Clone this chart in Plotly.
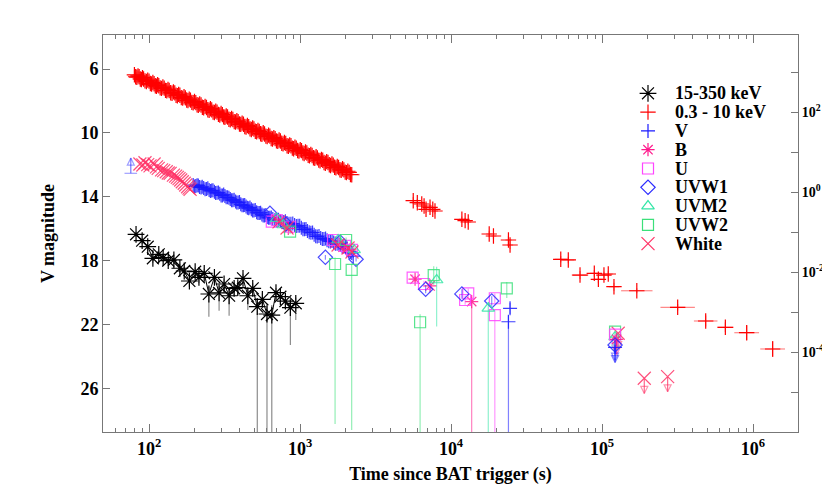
import numpy as np
import plotly.graph_objects as go

FONT = "Liberation Serif"

# ---------------- BAT 15-350 keV (flux, right axis) ----------------
bat_t = [82, 90, 98, 106, 116, 124, 134, 146, 160, 171, 185, 202, 214, 232, 249, 271, 291,
         314, 339, 366, 387, 419, 451, 486, 521, 563, 604, 650, 693, 741, 800, 863, 937]
bat_f = [0.0875, 0.0606, 0.0429, 0.022, 0.0277, 0.0228, 0.0192, 0.020, 0.0124, 0.0106,
         0.00596, 0.0102, 0.00737, 0.00928, 0.00282, 0.00737, 0.00299, 0.00501, 0.00255, 0.00391,
         0.00405, 0.00696, 0.00255, 0.00391, 0.00136, 0.00208, 0.00089, 0.00084, 0.00304, 0.00241,
         0.00188, 0.00128, 0.00165]
bat_lo = [0.075, 0.050, 0.034, 0.017, 0.021, 0.018, 0.015, 0.016, 0.0095, 0.0080, 0.0042, 0.0075,
          0.0052, 0.0068, 0.00076, 0.0052, 0.00108, 0.0034, 0.00081, 0.0026, 0.0027, 0.0050, 0.00112,
          0.0026, 1e-9, 0.0013, 1e-9, 1e-9, 0.0021, 0.0016, 0.0012, 0.00015, 0.00063]
bat_hi = [0.102, 0.072, 0.052, 0.028, 0.034, 0.028, 0.024, 0.025, 0.016, 0.014, 0.0080, 0.013,
          0.0097, 0.012, 0.0042, 0.0097, 0.0045, 0.0066, 0.0038, 0.0052, 0.0054, 0.0090, 0.0038,
          0.0052, 0.0022, 0.0030, 0.0016, 0.0015, 0.0040, 0.0032, 0.0026, 0.0020, 0.0023]

# ---------------- XRT 0.3-10 keV (flux, right axis) ----------------
xrt_t_early = [80, 83, 86, 89, 92, 96, 100, 104, 108, 112, 116, 121, 126, 131, 136, 142, 148, 154,
               160, 167, 174, 181, 188, 196, 204, 212, 221, 230, 240, 250, 260, 271, 282, 294, 306,
               318, 331, 345, 359, 374, 389, 405, 422, 439, 457, 476, 495, 516, 537, 559, 582, 606,
               631, 657, 684, 712, 741, 772, 804, 837, 871, 907, 944, 983, 1023, 1065, 1109, 1155,
               1202, 1252, 1303, 1357, 1413, 1471, 1531, 1594, 1660, 1728, 1800, 1874, 1951, 2031,
               2115, 2200]
xrt_f_early = [850, 740, 760, 650, 670, 580, 590, 500, 510, 440, 455, 390, 395, 340, 345, 295, 300,
               255, 262, 222, 226, 193, 198, 170, 172, 148, 150, 128, 130, 111, 113, 97, 99, 84, 86,
               74, 75, 64, 65, 56, 57, 49, 49.5, 42, 43, 36.5, 37.5, 32, 32.5, 27.8, 28.3, 24.3, 24.9,
               21.1, 21.6, 18.4, 18.8, 16.0, 16.4, 13.9, 14.3, 12.1, 12.4, 10.5, 10.8, 9.2, 9.4, 8.05,
               8.2, 7.0, 7.15, 6.05, 6.2, 5.25, 5.45, 4.6, 4.7, 4.02, 4.1, 3.5, 3.58, 3.05, 3.1, 2.7]
xrt_t_early_b = [81.5, 84.5, 87.5, 90.5, 94, 98, 102, 106, 110, 114, 118.5, 123.5, 128.5, 133.5,
                 139, 145, 151, 157, 163.5, 170.5, 177.5, 184.5, 192, 200, 208, 216.5, 225.5, 235,
                 245, 255, 265.5, 276.5, 288, 300, 312, 324.5, 338, 352, 366.5, 381.5, 397, 413.5,
                 430.5, 448, 466.5, 485.5, 505.5, 526.5, 548, 570.5, 594, 618.5, 644, 670.5, 698,
                 726.5, 756.5, 788, 820.5, 854, 889, 925.5, 963.5, 1003, 1044, 1087, 1132, 1178.5,
                 1227, 1277.5, 1330, 1385, 1442, 1501, 1562.5, 1627, 1694, 1764, 1837, 1912.5, 1991,
                 2073, 2157.5]
xrt_f_early_b = [760, 800, 670, 720, 600, 625, 515, 545, 455, 480, 400, 420, 348, 366, 303, 318,
                 262, 276, 229, 241, 199, 210, 174, 183, 152, 159, 132, 138, 114, 121, 99, 105, 87,
                 92, 75.5, 79.5, 66, 69, 57.5, 60.5, 50, 52.8, 43.5, 45.8, 37.8, 39.8, 33, 34.5,
                 28.7, 30.2, 25, 26.4, 21.8, 22.9, 19, 19.9, 16.5, 17.3, 14.3, 15.1, 12.5, 13.1, 10.9,
                 11.4, 9.5, 10.0, 8.3, 8.7, 7.2, 7.6, 6.25, 6.55, 5.45, 5.75, 4.78, 5.0, 4.15, 4.35,
                 3.6, 3.8, 3.14, 3.3, 2.74]
xrt_early_dex_f = 0.12
xrt_early_dex_t = 0.012

xrt_t_late = [5620, 5980, 6400, 6630, 6830, 7260, 7570, 7830, 11800, 12400, 13000, 17900, 19100,
              24000, 24600, 53300, 59800, 71500, 88900, 94600, 103000, 110000, 120000, 170000,
              317000, 486000, 656000, 908000, 1349000]
xrt_f_late = [0.606, 0.540, 0.501, 0.447, 0.369, 0.414, 0.369, 0.335, 0.208, 0.192, 0.178, 0.0891,
              0.0794, 0.0631, 0.0473, 0.0208, 0.020, 0.0084, 0.00928, 0.00657, 0.0084, 0.0089,
              0.00429, 0.0034, 0.00131, 5.96e-4, 4.14e-4, 3.04e-4, 1.19e-4]
xrt_late_dex_t = [0.02, 0.02, 0.02, 0.02, 0.02, 0.02, 0.02, 0.02, 0.02, 0.02, 0.02, 0.02, 0.02,
                  0.02, 0.02, 0.04, 0.04, 0.055, 0.03, 0.03, 0.03, 0.03, 0.035, 0.104, 0.114,
                  0.078, 0.055, 0.082, 0.082]
xrt_late_dex_f = [0.09, 0.09, 0.08, 0.08, 0.09, 0.08, 0.09, 0.08, 0.07, 0.07, 0.07, 0.08, 0.08,
                  0.1, 0.1, 0.08, 0.08, 0.1, 0.08, 0.1, 0.08, 0.08, 0.1, 0.06, 0.08, 0.14, 0.12,
                  0.18, 0.2]

# ---------------- UVOT / optical (magnitudes, left axis) ----------------
v_t = [196, 204, 212, 221, 230, 240, 250, 260, 271, 282, 294, 306, 318, 331, 345, 359, 374, 389,
       405, 422, 439, 457, 476, 495, 516, 537, 559, 582, 606, 631, 660, 700, 740, 780, 820, 870,
       920, 970, 1020, 1070, 1120, 1180, 1240, 1300, 1370, 1440, 1510, 1590, 1670, 1760, 1850,
       1950, 2050, 2150, 2250, 24600, 24000]
v_mag = [13.25, 13.32, 13.28, 13.4, 13.44, 13.5, 13.56, 13.6, 13.68, 13.74, 13.8, 13.9, 13.94,
         14.02, 14.12, 14.2, 14.28, 14.35, 14.46, 14.52, 14.6, 14.7, 14.76, 14.85, 14.95, 15.0,
         15.1, 15.16, 15.25, 15.3, 15.38, 15.45, 15.5, 15.56, 15.62, 15.68, 15.75, 15.8, 15.92,
         16.02, 16.12, 16.24, 16.36, 16.47, 16.56, 16.63, 16.7, 16.78, 16.85, 16.93, 17.0, 17.1,
         17.25, 17.45, 17.7, 20.96, 21.8]
v_err_lo = [0.12] * 55 + [0.35, 0.4]
v_err_hi = [0.12] * 55 + [0.35, 10]
v_t_b = [200, 208, 216, 225, 235, 245, 255, 265, 276, 288, 300, 312, 324, 338, 352, 366, 381, 397,
         413, 430, 448, 466, 485, 505, 526, 548, 570, 594, 618, 645, 680, 720, 760, 800, 845, 895,
         945, 995, 1045, 1095, 1150, 1210, 1270, 1335, 1405, 1475, 1550, 1630, 1715, 1805, 1900,
         2000, 2100, 2200]
v_mag_b = [13.35, 13.26, 13.38, 13.36, 13.52, 13.46, 13.62, 13.58, 13.75, 13.72, 13.9, 13.85,
           14.02, 14.05, 14.2, 14.18, 14.35, 14.32, 14.52, 14.5, 14.68, 14.65, 14.84, 14.82, 15.0,
           14.98, 15.16, 15.12, 15.3, 15.28, 15.45, 15.42, 15.56, 15.52, 15.68, 15.66, 15.82, 15.8,
           16.02, 16.0, 16.2, 16.22, 16.45, 16.44, 16.62, 16.6, 16.76, 16.75, 16.92, 16.9, 17.1,
           17.12, 17.4, 17.5]
v_lowlim_t = [75.7]
v_lowlim_mag = [12.52]

b_t = [693, 760, 836, 1706, 1927, 2143, 5780, 7260, 13700]
b_mag = [15.39, 15.6, 15.96, 16.88, 17.13, 17.31, 19.14, 19.56, 20.54]
b_err_lo = [0.1, 0.1, 0.12, 0.12, 0.15, 0.15, 0.2, 0.25, 0.3]
b_err_hi = [0.1, 0.1, 0.12, 0.12, 0.15, 0.15, 0.2, 0.25, 10]

u_t = [650, 702, 859, 1655, 1986, 2208, 5570, 6620, 12400, 13000, 19500, 19500]
u_mag = [15.54, 15.44, 15.86, 16.69, 17.06, 17.31, 19.04, 19.44, 20.44, 20.02, 20.33, 21.38]
u_err_lo = [0.1, 0.1, 0.12, 0.12, 0.15, 0.15, 0.2, 0.2, 0.3, 0.3, 0.3, 0.3]
u_err_hi = [0.1, 0.1, 0.12, 0.12, 0.15, 0.15, 0.2, 0.2, 0.3, 0.3, 0.3, 10]

w1_t = [632, 807, 1472, 1841, 2350, 6790, 11800, 18600]
w1_mag = [15.02, 15.69, 17.77, 16.81, 17.89, 19.77, 20.06, 20.5]
w1_err_lo = [0.1, 0.12, 0.15, 0.12, 0.15, 0.25, 0.3, 0.3]
w1_err_hi = [0.1, 0.12, 0.15, 0.12, 0.15, 0.25, 0.3, 0.3]

m2_t = [700, 774, 1786, 2281, 8030, 17650]
m2_mag = [15.35, 15.75, 16.69, 17.31, 19.19, 20.96]
m2_err_lo = [0.12, 0.15, 0.15, 0.2, 0.83, 0.4]
m2_err_hi = [0.12, 0.15, 0.15, 0.2, 2.9, 10]

w2_t = [859, 1706, 2019, 2198, 6240, 7680, 23400]
w2_mag = [16.17, 18.19, 16.69, 18.56, 21.83, 18.88, 19.71]
w2_err_lo = [0.15, 0.4, 0.15, 0.4, 0.5, 0.55, 0.4]
w2_err_hi = [0.15, 10, 0.15, 10, 10, 0.6, 0.6]

wh_t = [87, 91, 94, 98, 101.5, 108, 112, 115, 121, 125, 130, 134, 138, 145, 150, 154, 158, 162,
        166, 171, 175, 180, 184, 187, 726, 820, 1786, 2080, 2208]
wh_mag = [11.94, 12.0, 11.86, 11.98, 12.06, 11.94, 12.12, 12.21, 12.31, 12.35, 12.42, 12.5, 12.52,
          12.63, 12.7, 12.77, 12.85, 12.94, 13.05, 13.14, 13.25, 13.36, 13.45, 13.52, 15.56, 15.94,
          17.0, 17.19, 17.44]
wh_err = [0.1] * 29

# upper limits (late)
ul_band = ["UVW2", "White", "UVM2", "U", "B", "UVW1", "V", "White", "White"]
ul_t = [122000, 128000, 122000, 122000, 125000, 122000, 122000, 190500, 272000]
ul_mag = [22.42, 22.52, 22.75, 22.6, 22.9, 23.25, 23.4, 25.33, 25.23]

# legend labels
legend_labels = ["15-350 keV", "0.3 - 10 keV", "V", "B", "U", "UVW1", "UVM2", "UVW2", "White"]
legend_keys = ["BAT", "XRT", "V", "B", "U", "UVW1", "UVM2", "UVW2", "White"]

# ---------------- axes ----------------
x_tickvals = [1e2, 1e3, 1e4, 1e5, 1e6]
x_ticktext = ["10<sup>2</sup>", "10<sup>3</sup>", "10<sup>4</sup>", "10<sup>5</sup>", "10<sup>6</sup>"]
y_tickvals = [6, 10, 14, 18, 22, 26]
y2_tickvals = [1e3, 1e2, 1e1, 1e0, 1e-1, 1e-2, 1e-3, 1e-4, 1e-5]
y2_ticktext = ["", "10<sup>2</sup>", "", "10<sup>0</sup>", "", "10<sup>-2</sup>", "", "10<sup>-4</sup>", ""]

COL = {
    "BAT": "#000000", "XRT": "#ff0000",
    "V": "#1a1aff", "B": "#ff1a8c", "U": "#ff44ff", "UVW1": "#2a2aff",
    "UVM2": "#33e6a6", "UVW2": "#3be07a", "White": "#ff3366",
}
SYM = {
    "BAT": "asterisk-open", "XRT": "cross-thin-open",
    "V": "cross-thin-open", "B": "asterisk-open", "U": "square-open", "UVW1": "diamond-open",
    "UVM2": "triangle-up-open", "UVW2": "square-open", "White": "x-thin-open",
}
SIZE = {"BAT": 14, "XRT": 11, "V": 10, "B": 11, "U": 11, "UVW1": 11, "UVM2": 11, "UVW2": 11,
        "White": 13}


def rgba(hexc, a):
    h = hexc.lstrip("#")
    return "rgba(%d,%d,%d,%.2f)" % (int(h[0:2], 16), int(h[2:4], 16), int(h[4:6], 16), a)


def mk(key, alpha=1.0):
    c = rgba(COL[key], alpha)
    return dict(symbol=SYM[key], size=SIZE[key], color=c, line=dict(width=1.2, color=c))


fig = go.Figure()
axis_col = "#777777"

# BAT
bt = np.array(bat_t, float)
bf = np.array(bat_f)
fig.add_trace(go.Scatter(x=bt, y=bf, yaxis="y2", mode="lines", line=dict(color="black", width=1),
                         hoverinfo="skip"))
fig.add_trace(go.Scatter(
    x=bt, y=bf, yaxis="y2", mode="markers", marker=mk("BAT"),
    error_y=dict(type="data", symmetric=False, array=np.array(bat_hi) - bf,
                 arrayminus=bf - np.array(bat_lo), color="#8c8c8c", thickness=1.2, width=0)))

# XRT
xerr_col = "rgba(255,40,40,0.55)"
te = np.array(xrt_t_early + xrt_t_early_b, float)
fe = np.array(xrt_f_early + xrt_f_early_b, float)
tl = np.array(xrt_t_late, float)
fl = np.array(xrt_f_late, float)
dtl = np.array(xrt_late_dex_t)
dfl = np.array(xrt_late_dex_f)
for tt, ff, dt, df in [(te, fe, xrt_early_dex_t, xrt_early_dex_f), (tl, fl, dtl, dfl)]:
    fig.add_trace(go.Scatter(
        x=tt, y=ff, yaxis="y2", mode="markers", marker=mk("XRT"),
        error_y=dict(type="data", symmetric=False, array=ff * (10 ** df - 1),
                     arrayminus=ff * (1 - 10 ** -df), color=xerr_col, thickness=1.2, width=0),
        error_x=dict(type="data", symmetric=False, array=tt * (10 ** dt - 1),
                     arrayminus=tt * (1 - 10 ** -dt), color=xerr_col, thickness=1.2, width=0)))

# Optical
bands = [
    ("V", v_t + v_t_b, v_mag + v_mag_b, v_err_lo + [0.12] * len(v_t_b), v_err_hi + [0.12] * len(v_t_b)),
    ("B", b_t, b_mag, b_err_lo, b_err_hi),
    ("U", u_t, u_mag, u_err_lo, u_err_hi),
    ("UVW1", w1_t, w1_mag, w1_err_lo, w1_err_hi),
    ("UVM2", m2_t, m2_mag, m2_err_lo, m2_err_hi),
    ("UVW2", w2_t, w2_mag, w2_err_lo, w2_err_hi),
    ("White", wh_t, wh_mag, wh_err, wh_err),
]
for name, t, m, elo, ehi in bands:
    fig.add_trace(go.Scatter(
        x=t, y=m, mode="markers", marker=mk(name, 0.85),
        error_y=dict(type="data", symmetric=False, array=ehi, arrayminus=elo,
                     color=rgba(COL[name], 0.55), thickness=1.2, width=0)))

# early V lower limit (arrow up)
ARROW = 0.95
vc = rgba(COL["V"], 0.6)
fig.add_trace(go.Scatter(
    x=v_lowlim_t * 2, y=[v_lowlim_mag[0], v_lowlim_mag[0] - ARROW], mode="lines+markers",
    line=dict(color=vc, width=1.2),
    marker=dict(symbol=["line-ew-open", "arrow-up-open"], size=[9, 7], color=vc, line=dict(width=1.2, color=vc)),
    hoverinfo="skip"))

# upper limits (arrows down)
for b, t, m in zip(ul_band, ul_t, ul_mag):
    c = rgba(COL[b], 0.75)
    fig.add_trace(go.Scatter(x=[t], y=[m], mode="markers", marker=mk(b, 0.85)))
    fig.add_trace(go.Scatter(
        x=[t, t], y=[m, m + ARROW], mode="lines+markers", hoverinfo="skip",
        line=dict(color=c, width=1.2),
        marker=dict(symbol=["circle", "arrow-down-open"], size=[0, 7], color=c, line=dict(width=1.2, color=c))))

# legend (drawn on a pixel-like helper axis pair)
LEG_X, LEG_Y0, LEG_DY, LEG_TX = 648, 93.3, 18.8, 673
for i, key in enumerate(legend_keys):
    fig.add_trace(go.Scatter(x=[LEG_X], y=[LEG_Y0 + i * LEG_DY], xaxis="x2", yaxis="y3",
                             mode="markers", marker=mk(key), hoverinfo="skip"))
    fig.add_annotation(x=LEG_TX, y=LEG_Y0 + i * LEG_DY, xref="x2", yref="y3", text=legend_labels[i],
                       showarrow=False, xanchor="left", yanchor="middle",
                       font=dict(family=FONT, size=18, color="black", weight="bold"))

# page body has an 8px margin: plot area lands at x 103..798, y 35..432 in the window
fig.update_layout(
    width=830, height=498,
    margin=dict(l=95, r=40, t=27, b=74),
    plot_bgcolor="white", paper_bgcolor="white",
    font=dict(family=FONT, color="black"),
    showlegend=False,
    xaxis=dict(type="log", range=[1.695, 6.298], showline=True, linecolor=axis_col, linewidth=1,
               mirror="ticks", ticks="inside", ticklen=8, tickcolor=axis_col,
               tickvals=x_tickvals, ticktext=x_ticktext, automargin=False,
               tickfont=dict(family=FONT, size=18, weight="bold"),
               minor=dict(tickvals=[k * 10 ** e for e in range(1, 7) for k in range(2, 10)],
                          ticks="inside", ticklen=4, tickcolor=axis_col, showgrid=False),
               showgrid=False, zeroline=False,
               title=dict(text="Time since BAT trigger (s)", standoff=9,
                          font=dict(family=FONT, size=18, weight="bold"))),
    yaxis=dict(range=[28.69, 3.875], showline=True, linecolor=axis_col, linewidth=1,
               ticks="inside", ticklen=7, tickcolor=axis_col, tickvals=y_tickvals, automargin=False,
               tickfont=dict(family=FONT, size=18, weight="bold"),
               showgrid=False, zeroline=False,
               title=dict(text="V magnitude", standoff=21, font=dict(family=FONT, size=18, weight="bold"))),
    yaxis2=dict(type="log", range=[-6, 3.925], overlaying="y", side="right", anchor="x",
                showline=True, linecolor=axis_col, linewidth=1, ticks="inside", ticklen=7,
                tickcolor=axis_col, tickvals=y2_tickvals, ticktext=y2_ticktext, automargin=False,
                tickfont=dict(family=FONT, size=14, weight="bold"), showgrid=False, zeroline=False),
    xaxis2=dict(range=[103, 798], overlaying="x", anchor="y3", visible=False, automargin=False),
    yaxis3=dict(range=[432, 35], overlaying="y", anchor="x2", visible=False, automargin=False),
)

fig.write_html("out.html")
